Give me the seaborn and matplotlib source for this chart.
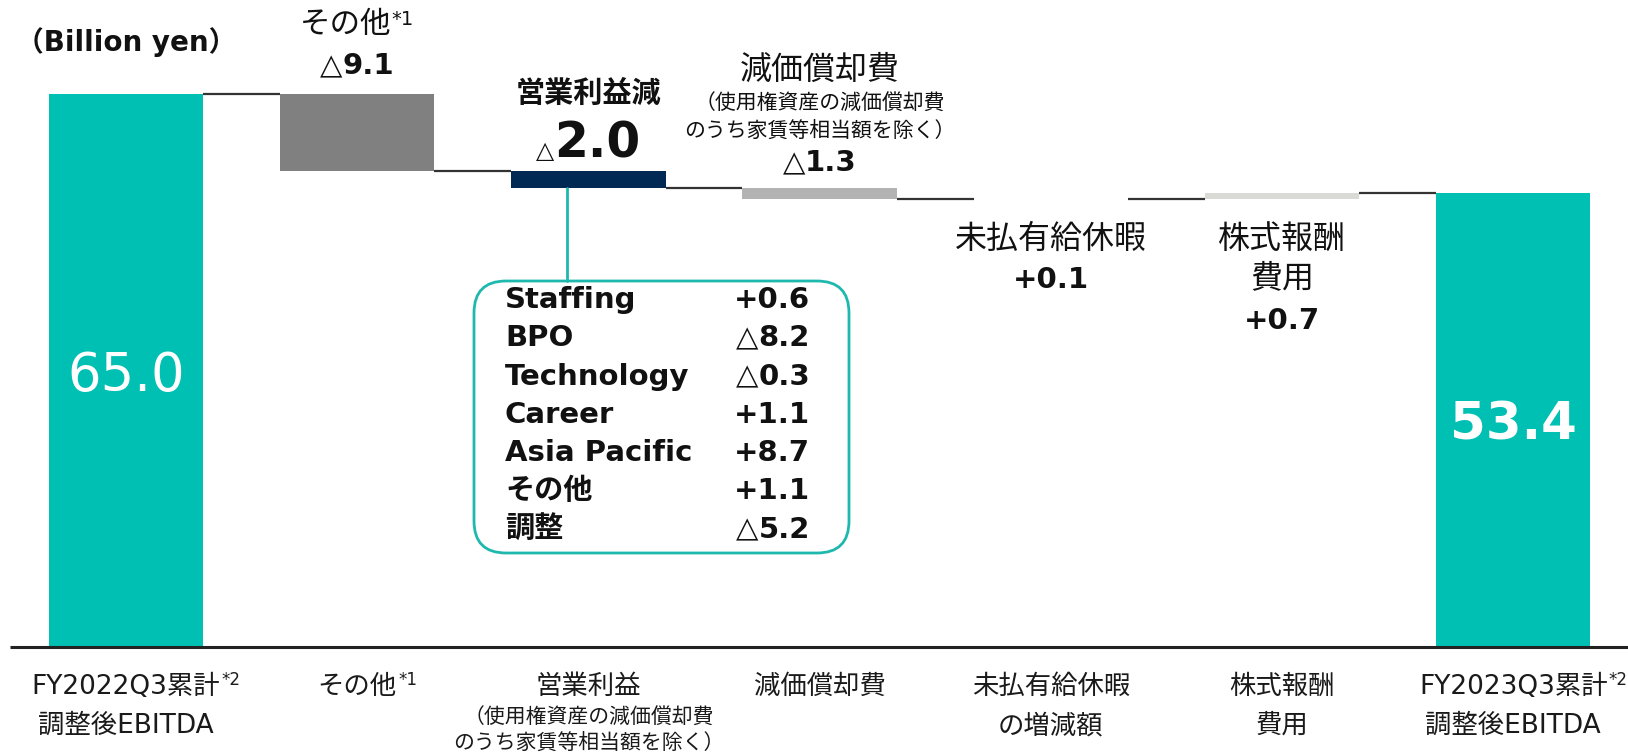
import numpy as np
import pandas as pd
import matplotlib
matplotlib.use("Agg")
import matplotlib.pyplot as plt
import seaborn as sns
from matplotlib.offsetbox import TextArea, HPacker, AnnotationBbox
from matplotlib.patches import FancyBboxPatch

# ---------------- data ----------------
categories = ["FY2022Q3累計", "その他", "営業利益", "減価償却費", "未払有給休暇", "株式報酬", "FY2023Q3累計"]
values = [65.0, -9.1, -2.0, -1.3, 0.1, 0.7, 53.4]
is_total = [True, False, False, False, False, False, True]
bar_colors = ["#00BFB3", "#808080", "#002A54", "#B3B3B3", "#EEEEEE", "#D9D9D6", "#00BFB3"]

segments = ["Staffing", "BPO", "Technology", "Career", "Asia Pacific", "その他", "調整"]
segment_values = [0.6, -8.2, -0.3, 1.1, 8.7, 1.1, -5.2]

tick_line1 = ["FY2022Q3累計", "その他", "営業利益", "減価償却費", "未払有給休暇", "株式報酬", "FY2023Q3累計"]
tick_sup = ["*2", "*1", "", "", "", "", "*2"]
tick_line2 = ["調整後EBITDA", "", "", "", "の増減額", "費用", "調整後EBITDA"]
tick_small = ["", "", "（使用権資産の減価償却費\nのうち家賃等相当額を除く）", "", "", "", ""]

unit_label = "（Billion yen）"

# ---------------- waterfall geometry ----------------
bottoms, tops, levels = [], [], []
level = 0.0
for v, tot in zip(values, is_total):
    if tot:
        bottoms.append(0.0); tops.append(v); level = v
    else:
        new = round(level + v, 6)
        bottoms.append(min(level, new)); tops.append(max(level, new)); level = new
    levels.append(level)

df = pd.DataFrame({"cat": categories, "top": tops, "bottom": bottoms})

def fmt(v):
    return ("△" if v < 0 else "+") + f"{abs(v):.1f}"

# ---------------- figure ----------------
sns.set_style("white")
FAM = ["DejaVu Sans", "Noto Sans CJK JP"]
plt.rcParams["font.family"] = FAM

W, H = 1628, 755
fig = plt.figure(figsize=(W / 100, H / 100), dpi=100)
ax = fig.add_axes([0, 0, 1, 1])

BAR_W = 0.667
sns.barplot(data=df, x="cat", y="top", hue="cat", palette=bar_colors, width=BAR_W,
            saturation=1, legend=False, ax=ax, linewidth=0, errorbar=None)

patches = sorted(ax.patches, key=lambda p: p.get_x())
for p, b, t in zip(patches, bottoms, tops):
    p.set_y(b)
    p.set_height(t - b)

X0_PX, XSTEP_PX = 126, 231.2
Y0_PX, YSCALE_PX = 647, 8.51
ax.set_xlim(-X0_PX / XSTEP_PX, (W - X0_PX) / XSTEP_PX)
ax.set_ylim(-(H - Y0_PX) / YSCALE_PX, Y0_PX / YSCALE_PX)
ax.axis("off")

def px_x(px):
    return (px - X0_PX) / XSTEP_PX

def px_y(py):
    return (Y0_PX - py) / YSCALE_PX

# baseline
ax.plot([px_x(10), px_x(W)], [0, 0], color="#222222", lw=2.2, solid_capstyle="butt", zorder=5)

# connectors
for i in range(len(values) - 1):
    ax.plot([i + BAR_W / 2, i + 1 - BAR_W / 2], [levels[i], levels[i]],
            color="#333333", lw=1.6, solid_capstyle="butt", zorder=3)

TXT = "#111111"

def rich(x, y, runs, align="baseline", box_alignment=(0.5, 0.5), sep=0):
    kids = []
    for text, size, weight in runs:
        kids.append(TextArea(text, textprops=dict(fontsize=size, fontweight=weight,
                                                  color=TXT, family=FAM)))
    pack = HPacker(children=kids, align=align, pad=0, sep=sep)
    ab = AnnotationBbox(pack, (x, y), frameon=False, box_alignment=box_alignment, pad=0,
                        annotation_clip=False)
    ab.set_zorder(8)
    ax.add_artist(ab)
    return ab

def val_runs(v, size, tri_size=None):
    s = fmt(v)
    if s.startswith("△"):
        return [("△", tri_size or size, "normal"), (s[1:], size, "bold")]
    return [(s, size, "bold")]

# unit label
ax.text(0, px_y(42), unit_label, ha="center", va="center", fontsize=20,
        fontweight="bold", color=TXT)

# totals inside bars
ax.text(0, tops[0] / 2, f"{values[0]:.1f}", ha="center", va="center_baseline", fontsize=38,
        color="white", fontweight="normal")
ax.text(6, tops[6] / 2, f"{values[6]:.1f}", ha="center", va="center_baseline", fontsize=37,
        color="white", fontweight="bold")

# cat 1 label
rich(1, px_y(25), [("その他", 22, "normal"), ("*1", 14, "normal")], align="top")
rich(1, px_y(66), val_runs(values[1], 21))

# cat 2 label
ax.text(2, px_y(94), "営業利益減", ha="center", va="center", fontsize=21,
        fontweight="bold", color=TXT)
rich(2, px_y(144), val_runs(values[2], 35, tri_size=17))

# cat 3 label
ax.text(3, px_y(70), "減価償却費", ha="center", va="center", fontsize=23, color=TXT)
ax.text(3, px_y(104), "（使用権資産の減価償却費", ha="center", va="center", fontsize=15, color=TXT)
ax.text(3, px_y(131), "のうち家賃等相当額を除く）", ha="center", va="center", fontsize=15, color=TXT)
rich(3, px_y(163), val_runs(values[3], 21))

# cat 4 label
ax.text(4, px_y(239), "未払有給休暇", ha="center", va="center", fontsize=23, color=TXT)
rich(4, px_y(280), val_runs(values[4], 21))

# cat 5 label
ax.text(5, px_y(239), "株式報酬", ha="center", va="center", fontsize=23, color=TXT)
ax.text(5, px_y(279), "費用", ha="center", va="center", fontsize=23, color=TXT)
rich(5, px_y(321), val_runs(values[5], 21))

# breakdown box
TEAL = "#1FB8AE"
bx0, bx1 = px_x(474), px_x(849)
by0, by1 = px_y(553), px_y(281)
aspect = XSTEP_PX / YSCALE_PX
box = FancyBboxPatch((bx0, by0), bx1 - bx0, by1 - by0,
                     boxstyle=f"round,pad=0,rounding_size={32 / XSTEP_PX}",
                     mutation_aspect=aspect, facecolor="white", edgecolor=TEAL,
                     linewidth=2.0, zorder=4)
ax.add_patch(box)
ax.plot([px_x(567), px_x(567)], [bottoms[2], by1], color=TEAL, lw=2.0, zorder=4)

row_y0, row_step = 300, 38.3
for k, (name, v) in enumerate(zip(segments, segment_values)):
    yy = px_y(row_y0 + k * row_step)
    ax.text(px_x(505), yy, name, ha="left", va="center", fontsize=21,
            fontweight="bold", color=TXT, zorder=6)
    rich(px_x(810), yy, val_runs(v, 21), box_alignment=(1.0, 0.5))

# bottom category labels
LBL = "#1a1a1a"
for i in range(len(categories)):
    t = ax.text(i, px_y(687), tick_line1[i], ha="center", va="center", fontsize=19, color=LBL)
    if tick_sup[i]:
        ax.annotate(tick_sup[i], xy=(1, 1), xycoords=t, xytext=(1, 2),
                    textcoords="offset points", ha="left", va="top", fontsize=12, color=LBL)
    if tick_line2[i]:
        ax.text(i, px_y(726), tick_line2[i], ha="center", va="center", fontsize=19, color=LBL)
    if tick_small[i]:
        l1, l2 = tick_small[i].split("\n")
        ax.text(i, px_y(718), l1, ha="center", va="center", fontsize=15, color=LBL)
        ax.text(i, px_y(743), l2, ha="center", va="center", fontsize=15, color=LBL)

fig.savefig("out.png", dpi=100)
